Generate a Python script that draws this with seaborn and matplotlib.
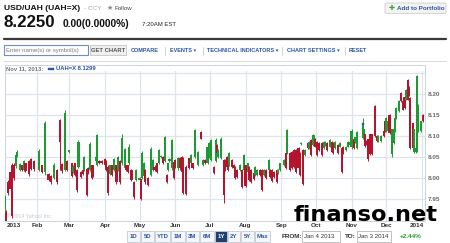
import numpy as np
import pandas as pd
import matplotlib
matplotlib.use("Agg")
import matplotlib.pyplot as plt
import matplotlib.dates as mdates
from matplotlib.patches import Rectangle, FancyBboxPatch
import seaborn as sns

# ---------------- data ----------------
days = [3, 4, 6, 8, 9, 11, 13, 14, 16, 18, 20, 21, 24, 26, 28, 33, 35, 38, 41, 43,
        46, 48, 51, 53, 55, 57, 59, 61, 62, 64, 66, 67, 69, 71, 72, 74, 75, 77, 79, 80,
        82, 83, 85, 87, 90, 91, 93, 94, 96, 98, 100, 101, 103, 105, 107, 108, 110, 111, 113, 115,
        117, 120, 121, 122, 124, 125, 127, 130, 132, 133, 135, 137, 139, 140, 142, 144, 145, 146, 148, 150,
        151, 153, 155, 157, 158, 160, 163, 165, 166, 168, 171, 173, 175, 177, 179, 180, 182, 185, 186, 187,
        188, 191, 193, 194, 196, 197, 198, 200, 202, 203, 205, 207, 209, 211, 212, 214, 215, 217, 219, 220,
        222, 225, 226, 228, 230, 232, 233, 235, 237, 239, 240, 242, 245, 247, 248, 251, 252, 254, 256, 258,
        259, 260, 262, 264, 266, 267, 269, 271, 272, 274, 276, 278, 280, 281, 283, 285, 287, 288, 290, 292,
        294, 296, 297, 299, 301, 303, 304, 306, 307, 309, 314, 315, 316, 317, 318, 320, 322, 324, 326, 327,
        330, 332, 333, 334, 336, 337, 339, 341, 342, 343, 345, 347, 349, 350, 351, 353, 354, 355, 357, 358,
        360, 361, 362, 364, 366]
opens = [7.927, 7.920, 7.990, 8.015, 8.030, 8.030, 8.028, 8.052, 8.020, 8.030, 8.020, 8.035, 8.040, 8.045, 8.040, 8.020, 8.030, 8.015, 8.010, 8.005,
         8.000, 8.020, 8.138, 8.033, 8.020, 8.040, 8.062, 8.035, 8.015, 8.035, 8.019, 8.027, 8.015, 8.020, 8.020, 8.022, 8.025, 8.020, 8.030, 8.030,
         8.040, 8.030, 8.040, 8.040, 8.045, 8.040, 8.027, 8.010, 8.030, 8.020, 8.030, 8.020, 8.040, 8.035, 8.025, 8.030, 8.030, 8.035, 8.020, 7.990,
         7.995, 7.995, 7.997, 8.000, 8.005, 8.020, 8.000, 8.007, 8.019, 8.027, 8.035, 8.035, 8.050, 8.051, 8.040, 8.007, 8.019, 8.041, 8.023, 8.039,
         8.043, 8.023, 8.047, 8.051, 8.027, 8.027, 8.047, 8.035, 8.035, 8.051, 8.031, 8.110, 8.031, 8.043, 8.035, 8.051, 8.043, 8.027, 8.040, 8.079,
         8.051, 8.047, 8.043, 8.043, 8.051, 8.039, 8.031, 8.043, 8.031, 8.027, 8.019, 8.019, 8.019, 8.020, 8.030, 8.015, 8.027, 8.020, 8.011, 8.007,
         8.007, 8.019, 8.019, 8.007, 8.019, 8.019, 8.019, 8.019, 8.015, 8.020, 8.011, 8.019, 8.031, 8.059, 8.059, 8.059, 8.063, 8.067, 8.067, 8.071,
         8.059, 8.081, 8.067, 8.055, 8.083, 8.071, 8.090, 8.079, 8.094, 8.087, 8.083, 8.083, 8.071, 8.079, 8.083, 8.075, 8.087, 8.083, 8.071, 8.079,
         8.075, 8.071, 8.075, 8.067, 8.075, 8.079, 8.073, 8.092, 8.085, 8.072, 8.096, 8.096, 8.104, 8.088, 8.092, 8.104, 8.104, 8.171, 8.100, 8.088,
         8.088, 8.112, 8.135, 8.112, 8.112, 8.151, 8.057, 8.084, 8.112, 8.143, 8.159, 8.202, 8.183, 8.194, 8.187, 8.234, 8.218, 8.190, 8.130, 8.061,
         8.061, 8.065, 8.112, 8.112, 8.151]
closes = [7.955, 7.895, 7.965, 7.975, 7.910, 8.000, 8.055, 8.063, 8.033, 8.020, 8.040, 8.017, 8.010, 8.022, 8.022, 8.065, 8.015, 8.130, 7.995, 7.990,
          8.030, 7.990, 8.085, 8.016, 8.155, 8.020, 8.066, 8.006, 8.027, 8.008, 7.971, 8.087, 8.002, 8.010, 8.050, 7.960, 8.012, 8.080, 8.000, 8.005,
          8.050, 8.103, 8.035, 8.035, 8.030, 8.020, 7.965, 8.030, 8.008, 8.045, 7.990, 8.050, 7.990, 8.095, 8.070, 8.020, 8.015, 8.075, 7.995, 7.955,
          8.020, 8.000, 7.950, 8.060, 8.035, 7.990, 7.983, 8.070, 8.043, 8.019, 8.015, 8.067, 8.053, 8.035, 8.098, 7.990, 8.035, 8.045, 8.090, 8.000,
          8.027, 8.047, 8.023, 8.015, 7.965, 7.963, 8.023, 8.055, 8.023, 8.114, 8.063, 8.094, 8.043, 8.035, 8.075, 8.083, 8.090, 8.011, 8.090, 8.059,
          8.067, 8.094, 7.960, 8.019, 8.027, 8.019, 8.059, 8.027, 8.023, 8.000, 8.003, 8.031, 7.979, 8.055, 7.980, 8.035, 7.995, 7.990, 7.997, 8.027,
          8.019, 8.007, 7.971, 8.019, 8.000, 8.043, 8.003, 7.992, 8.003, 7.990, 8.019, 8.035, 8.043, 8.023, 8.114, 8.019, 8.023, 8.027, 8.015, 8.023,
          8.007, 8.083, 7.987, 8.067, 8.071, 8.087, 8.055, 8.102, 8.075, 8.055, 8.067, 8.055, 8.087, 8.087, 8.067, 8.090, 8.063, 8.059, 8.087, 8.059,
          8.083, 8.015, 8.059, 8.075, 8.087, 8.087, 8.113, 8.072, 8.097, 8.110, 8.130, 8.116, 8.076, 8.080, 8.045, 8.057, 8.057, 8.100, 8.088, 8.100,
          8.100, 8.100, 8.112, 8.143, 8.135, 8.108, 8.116, 8.116, 8.143, 8.167, 8.183, 8.183, 8.163, 8.167, 8.210, 8.187, 8.198, 8.072, 8.072, 8.116,
          8.072, 8.242, 8.175, 8.135, 8.135]
highs = [7.960, 7.925, 7.995, 8.020, 8.035, 8.035, 8.058, 8.066, 8.036, 8.032, 8.043, 8.037, 8.043, 8.047, 8.042, 8.070, 8.032, 8.135, 8.012, 8.008,
         8.035, 8.022, 8.140, 8.035, 8.162, 8.043, 8.068, 8.037, 8.030, 8.037, 8.021, 8.090, 8.017, 8.022, 8.052, 8.025, 8.027, 8.085, 8.032, 8.032,
         8.052, 8.106, 8.042, 8.042, 8.047, 8.042, 8.030, 8.032, 8.032, 8.047, 8.032, 8.052, 8.042, 8.105, 8.072, 8.032, 8.032, 8.080, 8.022, 7.993,
         8.022, 8.003, 7.999, 8.065, 8.038, 8.022, 8.002, 8.073, 8.046, 8.030, 8.037, 8.070, 8.055, 8.053, 8.100, 8.010, 8.037, 8.047, 8.093, 8.041,
         8.045, 8.050, 8.050, 8.053, 8.050, 8.030, 8.049, 8.057, 8.037, 8.116, 8.065, 8.112, 8.045, 8.045, 8.077, 8.085, 8.092, 8.029, 8.095, 8.081,
         8.069, 8.098, 8.045, 8.045, 8.053, 8.041, 8.061, 8.045, 8.033, 8.029, 8.021, 8.033, 8.021, 8.057, 8.032, 8.037, 8.029, 8.022, 8.013, 8.029,
         8.021, 8.021, 8.021, 8.021, 8.021, 8.045, 8.021, 8.021, 8.017, 8.022, 8.021, 8.037, 8.045, 8.061, 8.117, 8.061, 8.065, 8.069, 8.069, 8.073,
         8.061, 8.085, 8.070, 8.069, 8.085, 8.089, 8.092, 8.104, 8.096, 8.089, 8.085, 8.085, 8.089, 8.089, 8.085, 8.092, 8.089, 8.085, 8.089, 8.081,
         8.085, 8.073, 8.077, 8.077, 8.089, 8.089, 8.116, 8.094, 8.099, 8.112, 8.142, 8.118, 8.106, 8.090, 8.094, 8.106, 8.106, 8.173, 8.102, 8.102,
         8.102, 8.114, 8.137, 8.145, 8.137, 8.153, 8.118, 8.118, 8.145, 8.169, 8.185, 8.205, 8.185, 8.196, 8.212, 8.236, 8.220, 8.192, 8.132, 8.118,
         8.074, 8.245, 8.177, 8.137, 8.153]
lows = [7.920, 7.890, 7.960, 7.970, 7.905, 7.995, 8.025, 8.050, 8.017, 8.017, 8.018, 8.015, 8.005, 8.020, 8.018, 8.017, 8.012, 8.008, 7.992, 7.987,
        7.997, 7.987, 8.020, 8.013, 8.016, 8.017, 8.060, 8.003, 8.012, 8.005, 7.968, 8.025, 8.000, 8.008, 8.018, 7.957, 8.010, 8.017, 7.997, 8.003,
        8.038, 8.028, 8.033, 8.033, 8.028, 8.017, 7.960, 8.008, 8.005, 8.018, 7.985, 8.018, 7.985, 8.032, 8.022, 8.018, 8.012, 8.032, 7.992, 7.950,
        7.993, 7.993, 7.948, 7.997, 8.003, 7.987, 7.980, 8.005, 8.017, 8.017, 8.013, 8.033, 8.048, 8.033, 8.038, 7.988, 8.017, 8.039, 8.020, 7.997,
        8.025, 8.020, 8.020, 8.013, 7.962, 7.960, 8.021, 8.033, 8.021, 8.049, 8.029, 8.092, 8.029, 8.033, 8.033, 8.049, 8.041, 8.009, 8.038, 8.057,
        8.049, 8.045, 7.940, 8.017, 8.025, 8.017, 8.029, 8.025, 8.021, 7.998, 8.001, 8.017, 7.977, 8.018, 7.978, 8.013, 7.993, 7.988, 7.995, 8.005,
        8.005, 8.005, 7.969, 8.005, 7.998, 8.017, 8.001, 7.990, 8.001, 7.988, 8.009, 8.017, 8.029, 8.021, 8.057, 8.017, 8.021, 8.025, 8.013, 8.021,
        8.005, 8.079, 7.984, 8.053, 8.069, 8.069, 8.053, 8.077, 8.073, 8.053, 8.065, 8.053, 8.069, 8.077, 8.065, 8.073, 8.061, 8.057, 8.069, 8.057,
        8.073, 8.012, 8.057, 8.065, 8.073, 8.077, 8.070, 8.070, 8.083, 8.070, 8.094, 8.094, 8.074, 8.078, 8.040, 8.055, 8.055, 8.098, 8.086, 8.086,
        8.086, 8.098, 8.110, 8.110, 8.110, 8.106, 8.050, 8.082, 8.110, 8.141, 8.157, 8.181, 8.161, 8.165, 8.185, 8.185, 8.196, 8.070, 8.070, 8.059,
        8.059, 8.062, 8.110, 8.110, 8.133]

year_start = "2013-01-01"
range_start = "2013-01-03 23:00"
range_end = "2014-01-03 19:00"
y_ticks = [7.95, 8.00, 8.05, 8.10, 8.15, 8.20]
y_grid = [7.95, 8.00, 8.05, 8.10, 8.15, 8.20, 8.25]
y_range = (7.899, 8.255)
month_labels = ["Feb", "Mar", "Apr", "May", "Jun", "Jul", "Aug", "Sep", "Oct", "Nov", "Dec"]
month_starts = ["2013-02-01", "2013-03-01", "2013-04-01", "2013-05-01", "2013-06-01", "2013-07-01",
                "2013-08-01", "2013-09-01", "2013-10-01", "2013-11-01", "2013-12-01", "2014-01-01"]
hover_date = "2013-11-11"
hover_value = 8.1299
range_buttons = ["1D", "5D", "YTD", "1M", "3M", "6M", "1Y", "2Y", "5Y", "Max"]
selected_range = "1Y"
change_pct = "+2.44%"

# ---------------- style ----------------
sns.set_theme(style="white")
plt.rcParams["font.family"] = ["Liberation Sans", "DejaVu Sans"]

W, H = 450, 243
fig = plt.figure(figsize=(W / 100, H / 100), dpi=100)
fig.patch.set_facecolor("white")


def fx(x):
    return x / W


def fy(y):
    return 1 - y / H


def T(x, y, s, **kw):
    kw.setdefault("va", "center")
    kw.setdefault("ha", "left")
    kw.setdefault("zorder", 6)
    fig.text(fx(x), fy(y), s, **kw)


def box(x0, y0, x1, y1, fc="white", ec="#c9c9c9", lw=0.6, z=1):
    fig.patches.append(Rectangle((fx(x0), fy(y1)), fx(x1) - fx(x0), fy(y0) - fy(y1),
                                 transform=fig.transFigure, fc=fc, ec=ec, lw=lw, zorder=z))


GREEN = "#1e9a33"
RED = "#b5142f"
BLUE = "#2d56a3"

# ---------------- header ----------------
T(4, 8, "USD/UAH (UAH=X)", fontsize=6.1, fontweight="bold", color="#111")
T(84, 8, "- CCY", fontsize=4.6, color="#aaaaaa")
T(107, 8, "★", fontsize=5.0, color="#8a8a8a", family=["DejaVu Sans"])
T(115, 8, "Follow", fontsize=4.4, color="#444")
T(3.5, 22.5, "8.2250", fontsize=12.2, fontweight="bold", color="#111")
T(62.5, 23.5, "0.00(0.0000%)", fontsize=7.4, fontweight="bold", color="#111")
T(142, 24, "7:20AM EST", fontsize=4.3, color="#222")

fig.patches.append(FancyBboxPatch((fx(385), fy(13.5)), fx(61), fy(0) - fy(10.5),
                                  boxstyle="round,pad=0.0,rounding_size=0.004",
                                  transform=fig.transFigure, fc="#f3f3f3", ec="#cfcfcf", lw=0.6))
T(388.5, 8, "✚", fontsize=5.2, color="#3aa63a", family=["DejaVu Sans"])
T(397, 8, "Add to Portfolio", fontsize=4.5, fontweight="bold", color=BLUE)

fig.add_artist(plt.Line2D([fx(4), fx(446)], [fy(39), fy(39)], transform=fig.transFigure,
                          color="#3a3a3a", lw=1.6))

# toolbar
box(4, 45.5, 88, 55.5, fc="white", ec="#6f8fc2", lw=0.8)
T(6, 50.5, "Enter name(s) or symbol(s)", fontsize=4.3, color="#7a7a7a")
box(90, 45.5, 126, 55.5, fc="#f0f0f0", ec="#c4c4c4", lw=0.6)
T(108, 50.7, "GET CHART", fontsize=4.2, fontweight="bold", color="#555", ha="center")
links = [(131, "COMPARE"), (170, "EVENTS ▾"), (207, "TECHNICAL INDICATORS ▾"),
         (287, "CHART SETTINGS ▾"), (349, "RESET")]
for x, s in links:
    T(x, 50.7, s, fontsize=3.95, fontweight="bold", color=BLUE)
for x in [164.5, 203, 282, 344.5]:
    fig.add_artist(plt.Line2D([fx(x), fx(x)], [fy(47), fy(55)], transform=fig.transFigure,
                              color="#cccccc", lw=0.6))
fig.add_artist(plt.Line2D([fx(4), fx(446)], [fy(61), fy(61)], transform=fig.transFigure,
                          color="#dddddd", lw=0.8))

# chart panel (behind the axes)
box(4.7, 65, 425, 221, fc="white", ec="#cfd4da", lw=0.7, z=-5)
T(6.5, 69, "Nov 11, 2013:", fontsize=4.2, fontweight="bold", color="#777")
box(48, 67.8, 54, 70.2, fc=BLUE, ec=BLUE, lw=0.3, z=6)
T(56, 69, "UAH=X 8.1299", fontsize=4.2, fontweight="bold", color=BLUE)

# ---------------- plot ----------------
ax = fig.add_axes([fx(4.7), fy(220.5), fx(425) - fx(4.7), fy(71) - fy(220.5)])
ax.set_zorder(2)
ax.patch.set_alpha(0)
for sp in ax.spines.values():
    sp.set_visible(False)

dates = pd.Timestamp(year_start) + pd.to_timedelta(days, unit="D")
xd = mdates.date2num(dates)
o = np.array(opens)
c = np.array(closes)
hi = np.array(highs)
lo = np.array(lows)
colors = np.where(c >= o, GREEN, RED)

for v in y_grid:
    ax.axhline(v, color="#dde4ec", lw=0.9, zorder=0)
ms = mdates.date2num(pd.to_datetime(month_starts))
for m in ms:
    ax.axvline(m, color="#dde4ec", lw=0.9, zorder=0)

ax.vlines(xd, lo, hi, colors=colors, lw=0.7, zorder=2)
ax.bar(xd, np.abs(c - o), bottom=np.minimum(o, c), width=1.8, color=colors,
       linewidth=0, zorder=3)

sns.scatterplot(x=[mdates.date2num(pd.Timestamp(hover_date))], y=[hover_value], ax=ax,
                marker="s", s=3.5, color=BLUE, edgecolor=BLUE, linewidth=0.3, zorder=5)

ax.set_xlim(mdates.date2num(pd.Timestamp(range_start)), mdates.date2num(pd.Timestamp(range_end)))
ax.set_ylim(*y_range)
ax.set_xticks([])
ax.set_yticks([])
ax.grid(False)

# y labels on the right
for v in y_ticks:
    ax.text(1.006, (v - y_range[0]) / (y_range[1] - y_range[0]), f"{v:.2f}",
            transform=ax.transAxes, fontsize=4.6, fontweight="bold", color="#6a6a6a",
            va="center", ha="left")

# x labels
tr = ax.get_xaxis_transform()
for lab, m in zip(month_labels, ms[:-1]):
    ax.text(m, -0.035, lab, transform=tr, fontsize=4.6, fontweight="bold", color="#333",
            ha="center", va="center")
ax.text(0.004, -0.035, "2013", transform=ax.transAxes, fontsize=4.6, fontweight="bold",
        color="#333", ha="left", va="center")
ax.text(0.998, -0.035, "2014", transform=ax.transAxes, fontsize=4.6, fontweight="bold",
        color="#333", ha="right", va="center")
ax.text(0.006, 0.03, "© 2014 Yahoo! Inc.", transform=ax.transAxes, fontsize=3.8,
        color="#c3c7cc", ha="left", va="center")

# ---------------- bottom controls ----------------
btn_x = [127, 141, 155, 171, 186, 200, 215, 228, 241, 255, 271]
for i, lab in enumerate(range_buttons):
    x0, x1 = btn_x[i], btn_x[i + 1] - 1
    sel = lab == selected_range
    box(x0, 231, x1, 242, fc="#1f3f73" if sel else "#f4f6f9", ec="#c5cbd3", lw=0.6)
    T((x0 + x1) / 2, 236.7, lab, fontsize=4.3, fontweight="bold",
      color="white" if sel else BLUE, ha="center")

T(282, 236.7, "FROM:", fontsize=4.6, fontweight="bold", color="#333")
box(301.5, 231, 340, 242, fc="white", ec="#b8b8b8", lw=0.6)
T(303.5, 236.7, "Jan 4 2013", fontsize=4.4, color="#333")
T(345, 236.7, "TO:", fontsize=4.6, fontweight="bold", color="#333")
box(356.5, 231, 391, 242, fc="white", ec="#b8b8b8", lw=0.6)
T(358.5, 236.7, "Jan 3 2014", fontsize=4.4, color="#333")
T(400, 236.7, change_pct, fontsize=4.6, fontweight="bold", color="#2a9d2a")

# watermark
T(293.5, 220.5, "finanso.net", fontsize=16.2, fontweight="bold", color="black",
  family=["DejaVu Sans"], va="baseline", zorder=10)

fig.savefig("out.png", dpi=100)
